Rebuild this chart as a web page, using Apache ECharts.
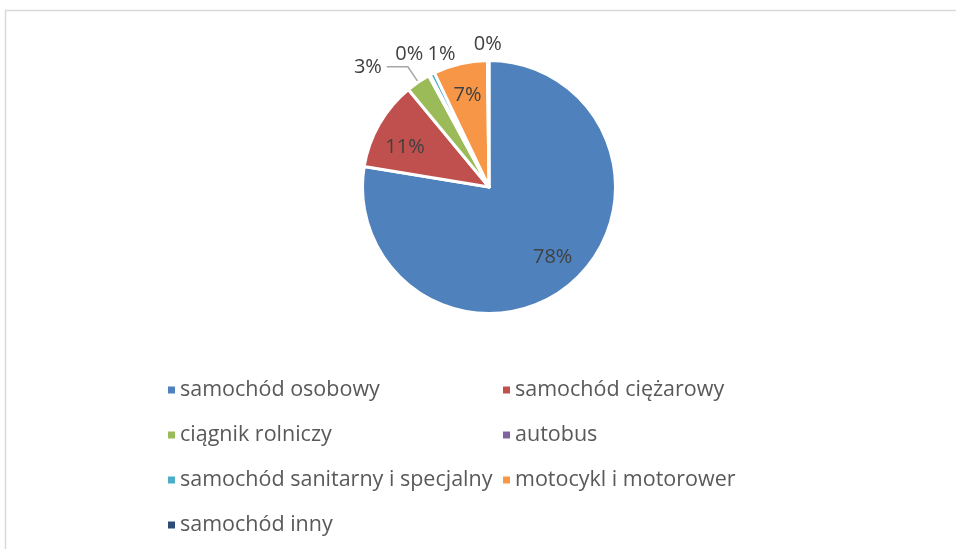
<!DOCTYPE html>
<html><head><meta charset="utf-8">
<script src="https://cdn.jsdelivr.net/npm/echarts@6/dist/echarts.min.js"></script>
<style>html,body{margin:0;padding:0;background:#fff}#c{width:956px;height:549px}</style>
</head><body><div id="c"></div>
<script>
const categories = ['samochód osobowy','samochód ciężarowy','ciągnik rolniczy','autobus','samochód sanitarny i specjalny','motocykl i motorower','samochód inny'];
const values = [77.6, 11.4, 3.1, 0.2, 0.6, 6.9, 0.2];
const colors = ['#4F81BD','#C0504D','#9BBB59','#8064A2','#4BACC6','#F79646','#2C4D75'];

// label placement tweaks (style only)
const labelNudge = [[2.5,-1.5],[-2,7],[0,0],[-2,-22],[27.5,-21],[0,0],[18.5,-17.5]];

const chart = echarts.init(document.getElementById('c'));
const font = '"Open Sans", "Liberation Sans", sans-serif';
const labelData = categories.map((n,i)=>{
  const big = values[i] >= 5;
  const isGreen = i === 2;
  return {
    name:n, value:values[i],
    label:{position: big ? 'inside' : 'outside'},
    labelLine:{show: isGreen, length: isGreen ? 20 : 0, length2: isGreen ? 21 : 0,
               lineStyle:{color:'#a6a6a6', width:1.5}}
  };
});
chart.setOption({
  animation:false,
  color: colors,
  graphic:[{type:'rect', shape:{x:5.5,y:10.5,width:1000,height:600}, style:{fill:'none', stroke:'#d9d9d9', lineWidth:1.5}, silent:true}],
  legend:{
    left:168, top:372.5, width:680, padding:0,
    orient:'horizontal',
    itemWidth:7, itemHeight:7, itemGap:10, icon:'rect',
    itemStyle:{borderWidth:0},
    textStyle:{fontFamily:font, fontSize:21.5, color:'#595959', width:313, lineHeight:35, overflow:'none'},
    data: categories
  },
  series:[
    {type:'pie', center:[489,187], radius:126.5, startAngle:90, clockwise:true,
     label:{show:false}, labelLine:{show:false},
     itemStyle:{borderColor:'#fff', borderWidth:3},
     emphasis:{disabled:true},
     data: categories.map((n,i)=>({name:n, value:values[i]}))},
    {type:'pie', center:[489,187], radius:[58,125], startAngle:90, clockwise:true, silent:true,
     avoidLabelOverlap:false, legendHoverLink:false,
     itemStyle:{color:'rgba(0,0,0,0)'},
     label:{show:true, fontFamily:font, fontSize:20, color:'#404040',
            formatter: p => Math.round(p.value) + '%'},
     labelLayout: p => ({dx: labelNudge[p.dataIndex][0], dy: labelNudge[p.dataIndex][1]}),
     emphasis:{disabled:true},
     data: labelData}
  ]
});
</script></body></html>
